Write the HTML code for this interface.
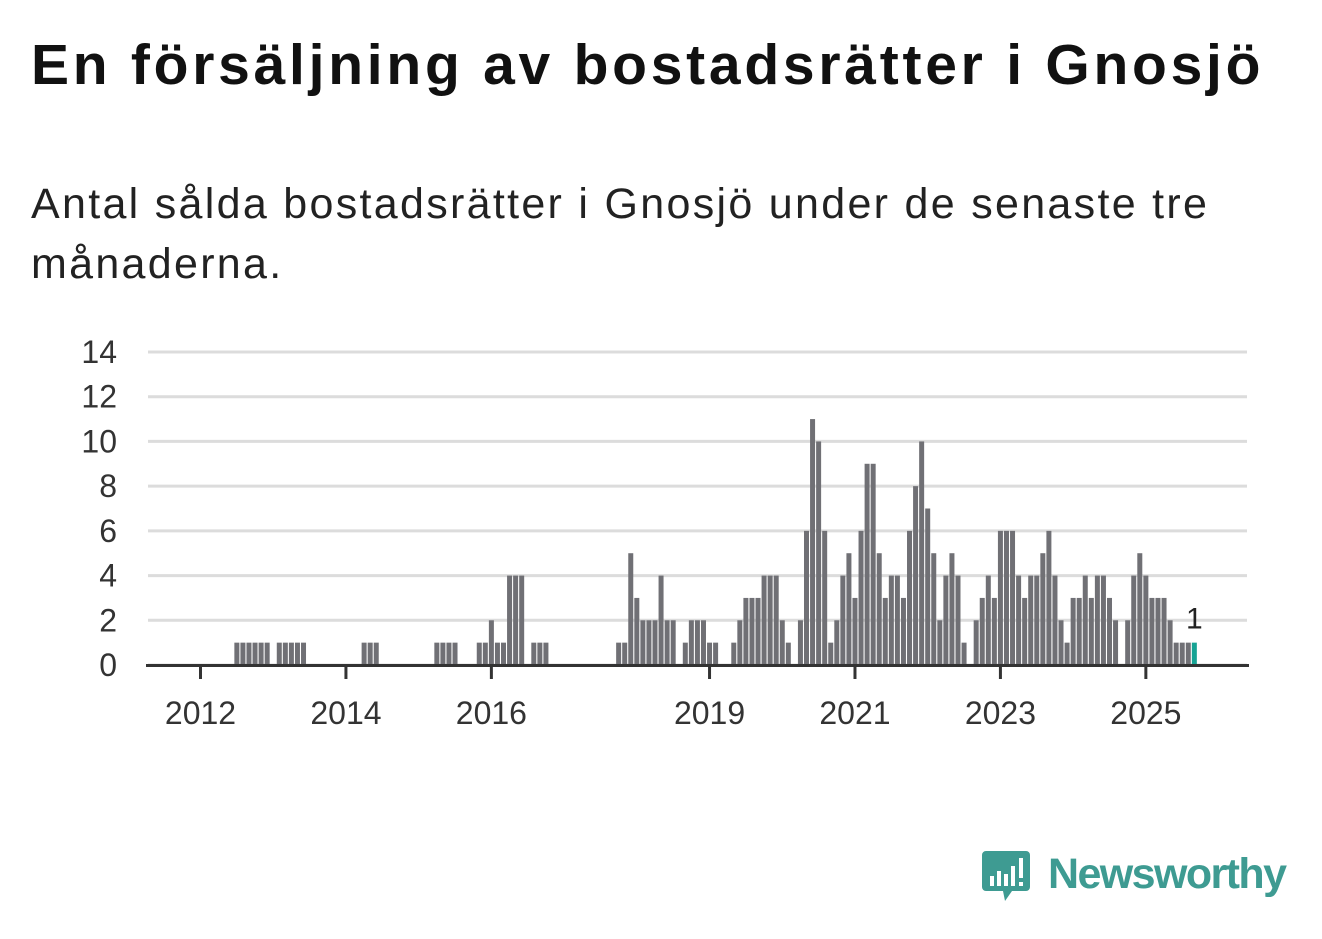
<!DOCTYPE html>
<html><head><meta charset="utf-8"><style>
body{margin:0;background:#fff;width:1322px;height:939px;overflow:hidden;font-family:"Liberation Sans",sans-serif;}
#title{position:absolute;left:31px;top:32px;font-size:57px;font-weight:bold;color:#111;margin:0;white-space:nowrap;letter-spacing:3.75px}
#sub{position:absolute;left:31px;top:174px;font-size:43px;color:#222;line-height:60px;width:1250px;margin:0;letter-spacing:2.3px}
svg{position:absolute;left:0;top:0}
</style></head><body>
<h1 id="title">En försäljning av bostadsrätter i Gnosjö</h1>
<p id="sub">Antal sålda bostadsrätter i Gnosjö under de senaste tre månaderna.</p>
<svg id="chart" width="1322" height="939"></svg>
<script>
const startMonth = "2012-02";
const values = [
0,0,0,0,0,1,1,1,1,1,
1,0,1,1,1,1,1,0,0,0,
0,0,0,0,0,0,1,1,1,0,
0,0,0,0,0,0,0,0,1,1,
1,1,0,0,0,1,1,2,1,1,
4,4,4,0,1,1,1,0,0,0,
0,0,0,0,0,0,0,0,1,1,
5,3,2,2,2,4,2,2,0,1,
2,2,2,1,1,0,0,1,2,3,
3,3,4,4,4,2,1,0,2,6,
11,10,6,1,2,4,5,3,6,9,
9,5,3,4,4,3,6,8,10,7,
5,2,4,5,4,1,0,2,3,4,
3,6,6,6,4,3,4,4,5,6,
4,2,1,3,3,4,3,4,4,3,
2,0,2,4,5,4,3,3,3,2,
1,1,1,1];
const yTicks = [0,2,4,6,8,10,12,14];
const xTickYears = [2012,2014,2016,2019,2021,2023,2025];
const NS="http://www.w3.org/2000/svg";
const svg=document.getElementById('chart');
const x0=148,x1=1247,yBase=665,yTop=352,yMax=14;
const monthW=6.06;
const sy=(v)=>yBase-(v/yMax)*(yBase-yTop);
const [sYr,sMo]=startMonth.split('-').map(Number);
const mx=(m)=>200.5+m*monthW; // m = months since Jan 2012
const offset=(sYr-2012)*12+(sMo-1);
function el(t,a){const e=document.createElementNS(NS,t);for(const k in a)e.setAttribute(k,a[k]);svg.appendChild(e);return e;}
yTicks.forEach(v=>{
  const g=el('line',{x1:x0,x2:x1,y1:sy(v),y2:sy(v),stroke:'#dcdcdc','stroke-width':3});
  
  
  const t=el('text',{x:117,y:sy(v)+11,'text-anchor':'end','font-size':32,fill:'#333','font-family':'Liberation Sans, sans-serif'});
  t.textContent=v;
  
  
});
values.forEach((v,i)=>{
  if(v<=0)return;
  const cx=mx(i+offset);
  const last=i===values.length-1;
  const r=el('rect',{x:cx-2.5,y:sy(v),width:5,height:yBase-sy(v),fill:last?'#16a394':'#707075'});
  
  
  if(last){
    const t=el('text',{x:cx,y:sy(v)-14,'text-anchor':'middle','font-size':30,fill:'#222','font-family':'Liberation Sans, sans-serif'});
    t.textContent=v;
    
    
  }
});
const ax=el('line',{x1:146,x2:1249,y1:yBase+0.5,y2:yBase+0.5,stroke:'#333','stroke-width':3});


xTickYears.forEach(yr=>{
  const x=mx((yr-2012)*12);
  const tk=el('line',{x1:x,x2:x,y1:yBase,y2:yBase+14,stroke:'#333','stroke-width':3});
  
  
  const t=el('text',{x:x,y:724,'text-anchor':'middle','font-size':32,fill:'#333','font-family':'Liberation Sans, sans-serif'});
  t.textContent=yr;
  
  
});
</script>
<svg width="1322" height="939" style="position:absolute;left:0;top:0;pointer-events:none">
<path d="M986 851 h40 a4 4 0 0 1 4 4 v32 a4 4 0 0 1 -4 4 h-14 l-7 10 l-2 -10 h-17 a4 4 0 0 1 -4 -4 v-32 a4 4 0 0 1 4 -4z" fill="#3e9b92"/>
<rect x="990" y="876" width="4" height="10" fill="#fff"/><rect x="997" y="871" width="4" height="15" fill="#fff"/><rect x="1004" y="874" width="4" height="12" fill="#fff"/><rect x="1011" y="866" width="4" height="20" fill="#fff"/><rect x="1019" y="858" width="4" height="20" fill="#fff"/><rect x="1019" y="882" width="4" height="4" fill="#fff"/>
<text x="1048" y="888" font-size="43" font-weight="bold" fill="#3e9b92" font-family="Liberation Sans, sans-serif" textLength="239">Newsworthy</text>
</svg>
</body></html>
